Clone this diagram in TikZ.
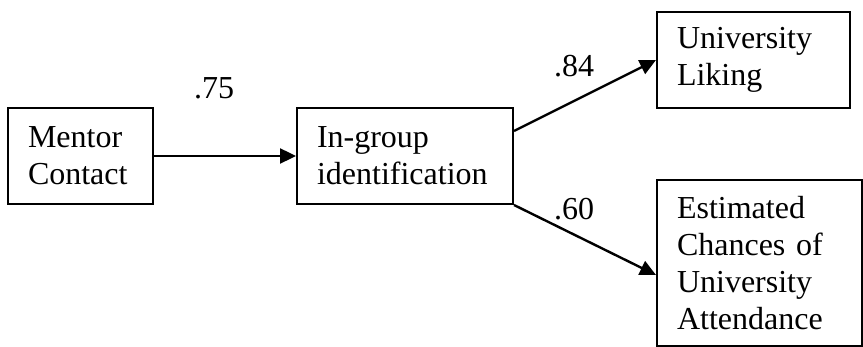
\documentclass[tikz,border=0pt]{standalone}
\usepackage{fontspec}
\setmainfont{Liberation Serif}
\usetikzlibrary{arrows.meta,positioning}

\begin{document}
\begin{tikzpicture}
  [x=0.5pt,y=-0.5pt,
 var/.style={
  rectangle,
  draw=black,
  line width=1pt, % border
  anchor=north west,
  align=left,
  inner xsep=10pt,
  inner ysep=0pt,
  font=\fontsize{16}{18.5}\selectfont},
 coef/.style={font=\fontsize{16}{18}\selectfont, anchor=base, inner sep=0pt},
 path/.style={-{Triangle[length=8pt,width=7.5pt]}, line width=1.2pt}]
\useasboundingbox (0,0) rectangle (863,347);
\node (mentor) [var, text width=52.5pt, minimum height=48pt] at (7,107) {Mentor\\Contact};
\node (ingroup) [var, text width=88pt, minimum height=48pt] at (296,107) {In-group\\identification};
\node (liking) [var, text width=76.5pt, minimum height=48pt] at (656,11) {University\\Liking};
\node (attend) [var, text width=82.5pt, minimum height=83pt] at (656,179) {Estimated\\Chances of\\University\\Attendance};
\node (c75) [coef] at (214,99) {.75};
\node (c84) [coef] at (574,77) {.84};
\node (c60) [coef] at (574,220) {.60};
\path (mentor)  edge[path] (ingroup) ;
\path ([yshift=12.5pt]ingroup.east)  edge[path] (liking.west) ;
\path (ingroup.south east)  edge[path] ([yshift=-6pt]attend.west) ;
\end{tikzpicture}
\end{document}
